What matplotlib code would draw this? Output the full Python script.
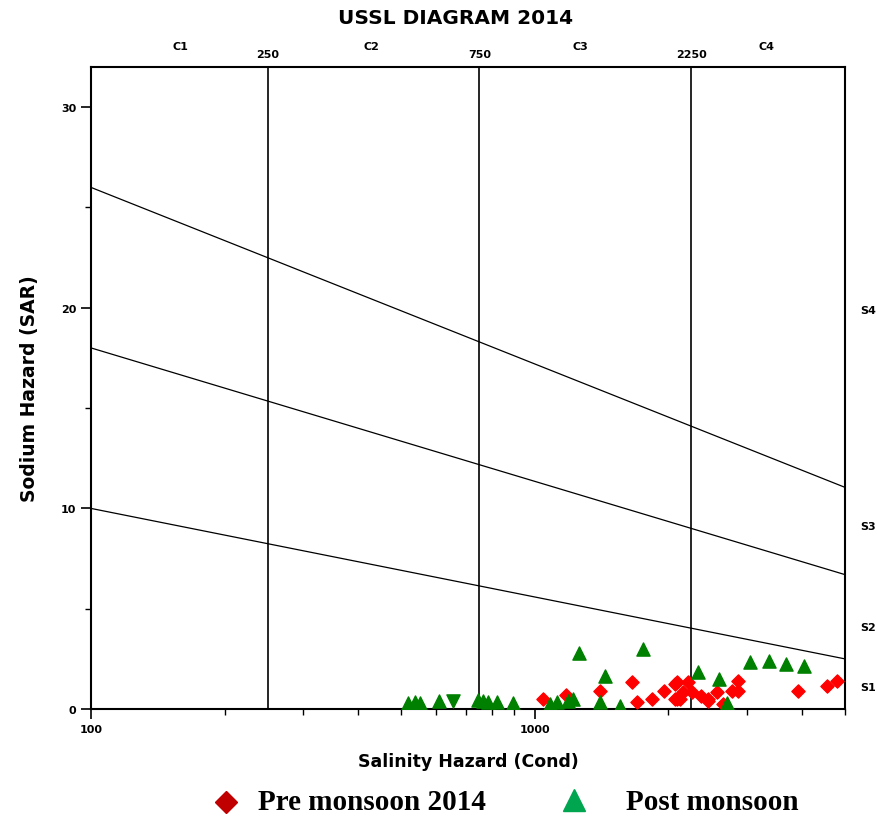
import matplotlib
matplotlib.use('Agg')
import matplotlib.pyplot as plt
from matplotlib.lines import Line2D

# salinity class boundaries (uS/cm) and labels
c_bounds = [250, 750, 2250]
c_labels = ['C1', 'C2', 'C3', 'C4']
c_label_x = [159, 429, 1266, 3320]

# sodium hazard lines, SAR at EC=100 and EC=5000
s_lines = [(10.0, 2.5), (18.0, 6.7), (26.0, 11.05)]
s_labels = ['S1', 'S2', 'S3', 'S4']
s_label_y = [1.1, 4.1, 9.1, 19.9]

# pre monsoon 2014 samples
pre_ec = [1043, 1176, 1403, 1656, 1699, 1837, 1955, 2070, 2070, 2091, 2091,
          2120, 2158, 2214, 2261, 2369, 2454, 2454, 2580, 2655, 2780, 2870,
          2870, 3918, 4554, 4797]
pre_sar = [0.5, 0.7, 0.9, 1.35, 0.35, 0.5, 0.9, 1.25, 0.5, 1.35, 0.5,
           0.5, 0.85, 1.35, 0.85, 0.65, 0.5, 0.4, 0.85, 0.25, 0.9, 1.4,
           0.9, 0.9, 1.15, 1.4]

# post monsoon samples
post_ec = [518, 537, 551, 608, 745, 764, 785, 822, 893, 1082, 1122, 1188,
           1220, 1258, 1403, 1440, 1556, 1750, 2332, 2600, 2711, 3054, 3371,
           3681, 4044]
post_sar = [0.3, 0.35, 0.3, 0.4, 0.45, 0.4, 0.35, 0.35, 0.3, 0.25, 0.35,
            0.4, 0.5, 2.8, 0.35, 1.64, 0.15, 3.0, 1.84, 1.5, 0.3, 2.34,
            2.4, 2.24, 2.14]
post_odd_ec = [654]
post_odd_sar = [0.4]

legend_labels = ['Pre monsoon 2014', 'Post monsoon']

fig = plt.figure(figsize=(8.77, 8.2), dpi=100)
ax = fig.add_axes([0.1038, 0.1341, 0.8597, 0.7829])

ax.set_xscale('log')
ax.set_xlim(100, 5000)
ax.set_ylim(0, 32)

for b in c_bounds:
    ax.axvline(b, color='black', lw=1.2)
for a, b in s_lines:
    ax.plot([100, 5000], [a, b], color='black', lw=0.9)

ax.scatter(pre_ec, pre_sar, marker='D', s=45, color='#ff0000', zorder=3)
ax.scatter(post_ec, post_sar, marker='^', s=90, color='#008000', zorder=3)
ax.scatter(post_odd_ec, post_odd_sar, marker='v', s=90, color='#008000', zorder=3)

ax.set_xticks([100, 1000])
ax.set_xticklabels(['100', '1000'])
ax.set_yticks([0, 10, 20, 30])
ax.set_yticks([5, 15, 25], minor=True)
ax.tick_params(which='major', length=7, width=1.2, labelsize=8)
ax.tick_params(which='minor', length=4, width=1)
for lab in ax.get_xticklabels() + ax.get_yticklabels():
    lab.set_fontweight('bold')
for sp in ax.spines.values():
    sp.set_linewidth(1.5)

ax.set_xlabel('Salinity Hazard (Cond)', fontsize=12.5, fontweight='bold', labelpad=13)
ax.set_ylabel('Sodium Hazard (SAR)', fontsize=13.5, fontweight='bold', labelpad=16)

# class labels along the top
for x, lab in zip(c_label_x, c_labels):
    ax.text(x, 1.025, lab, transform=ax.get_xaxis_transform(), ha='center',
            va='bottom', fontsize=8, fontweight='bold')
for b in c_bounds:
    ax.text(b, 1.012, str(b), transform=ax.get_xaxis_transform(), ha='center',
            va='bottom', fontsize=8, fontweight='bold')
for y, lab in zip(s_label_y, s_labels):
    ax.text(1.02, y, lab, transform=ax.get_yaxis_transform(), ha='left',
            va='center', fontsize=8, fontweight='bold')

fig.text(0.52, 0.978, 'USSL DIAGRAM 2014', ha='center', va='center',
         fontsize=14.5, fontweight='bold')

# legend drawn by hand below the plot
fig.add_artist(Line2D([0.2577], [0.021], ls='none', marker='D', ms=11,
                      color='#c00000', transform=fig.transFigure))
fig.add_artist(Line2D([0.6545], [0.023], ls='none', marker='^', ms=16,
                      color='#00a550', transform=fig.transFigure))
leg_font = {'family': 'Liberation Serif', 'weight': 'bold', 'size': 21}
fig.text(0.2942, 0.021, legend_labels[0], ha='left', va='center', **leg_font)
fig.text(0.7138, 0.021, legend_labels[1], ha='left', va='center', **leg_font)

fig.savefig('out.png', dpi=100)
